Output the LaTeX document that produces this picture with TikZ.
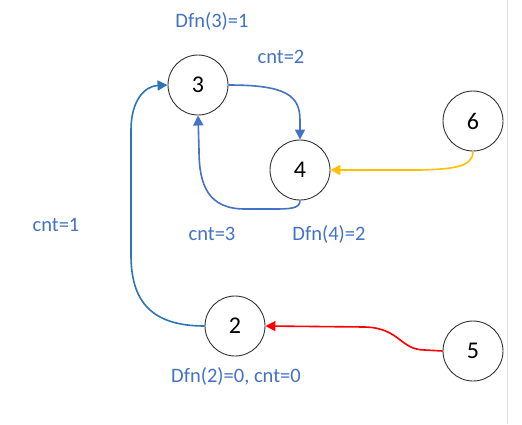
\documentclass[tikz,border=0pt]{standalone}
\usepackage{fontspec}
\setmainfont{Carlito}
\usetikzlibrary{arrows.meta}
\definecolor{lbl}{RGB}{68,114,196}
\definecolor{eblue}{RGB}{46,117,182}
\definecolor{eblue2}{RGB}{68,114,196}
\definecolor{eyellow}{RGB}{255,192,0}
\definecolor{ered}{RGB}{255,0,0}
\begin{document}
\begin{tikzpicture}[x=1pt,y=-1pt,
  vtx/.style={circle,draw=black!80,line width=0.9pt,minimum size=60pt,inner sep=0pt,font=\fontsize{24}{28}\selectfont},
  lab/.style={text=lbl,font=\fontsize{20.5}{24}\selectfont,inner sep=0pt},
  edge/.style={line width=1.6pt,-{Triangle[length=10pt,width=10pt]}}]
\useasboundingbox[fill=white] (0,0) rectangle (522,424);
\draw[black!12,line width=1pt] (507,0) -- (507,424);
\node[vtx] (n3) at (198,85) {3};
\node[vtx] (n4) at (300,170) {4};
\node[vtx] (n6) at (473,121) {6};
\node[vtx] (n2) at (235,326) {2};
\node[vtx] (n5) at (473,351) {5};
\node[lab] (l1) at (212,21) {Dfn(3)=1};
\node[lab] (l2) at (281,57) {cnt=2};
\node[lab] (l3) at (56,225) {cnt=1};
\node[lab] (l4) at (212,234) {cnt=3};
\node[lab] (l5) at (329,234) {Dfn(4)=2};
\node[lab] (l6) at (236,376) {Dfn(2)=0, cnt=0};
\draw[edge,eblue] (n2.west) .. controls (150,326) and (131,300) .. (131,255) -- (131,130) .. controls (131,100) and (145,86) .. (n3.west);
\draw[edge,eblue2] (n3.east) .. controls (285,85) and (300,95) .. (300,120) -- (n4.north);
\draw[edge,eblue2] (n4.south) .. controls (300,209) and (290,209) .. (270,209) -- (245,209) .. controls (208,209) and (199,185) .. (199,150) -- (n3.south);
\draw[edge,eyellow] (n6.south) .. controls (473,168) and (450,169) .. (420,170) -- (n4.east);
\draw[edge,ered] (n5.west) -- (425,350) .. controls (400,350) and (400,328) .. (365,327) -- (n2.east);
\end{tikzpicture}
\end{document}
